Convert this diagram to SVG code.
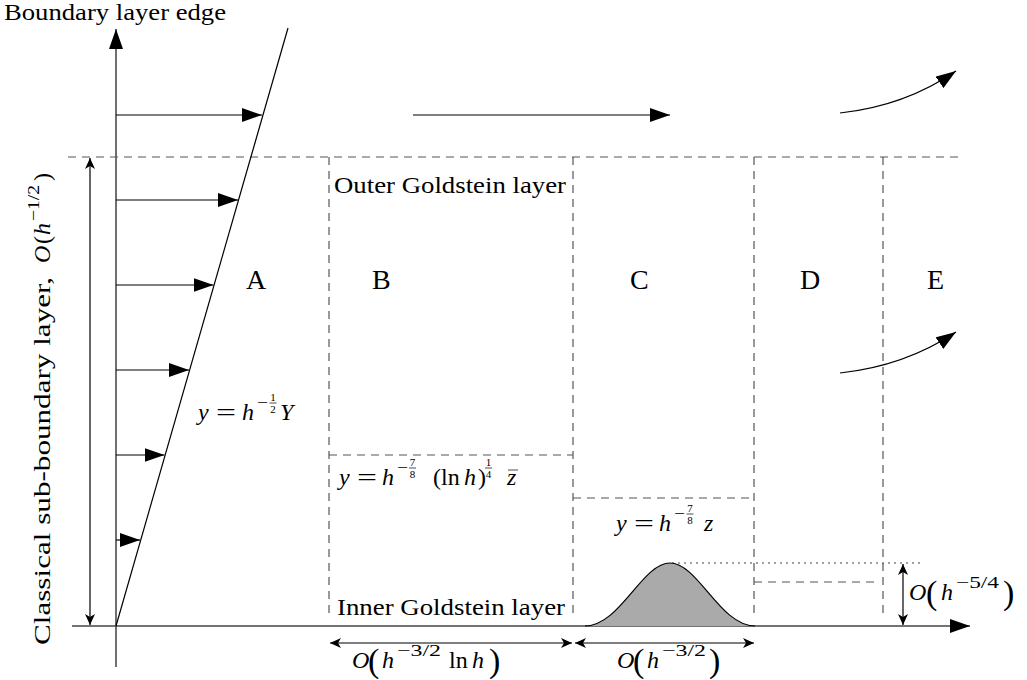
<svg xmlns="http://www.w3.org/2000/svg" width="1027" height="680" viewBox="0 0 1027 680">
<style>
.t{font-family:'Liberation Serif','Times New Roman',serif;font-size:24px;fill:#000}
.it{font-style:italic}
.sup{font-size:17px}
.fr{font-size:11px}
.big{font-size:34px}
.lbl{font-size:28px}
.ax{stroke:#222;stroke-width:1.3;fill:none}
.ln{stroke:#000;stroke-width:1.2;fill:none}
.da{stroke:#555;stroke-width:1.2;stroke-dasharray:8 6;fill:none}
.dot{stroke:#444;stroke-width:1.2;stroke-dasharray:2 4;fill:none}
.fl{stroke:#000;stroke-width:0.7}
</style>
<defs>
<marker id="tri" markerUnits="userSpaceOnUse" markerWidth="20" markerHeight="14" refX="20" refY="7" orient="auto"><path d="M0,0 L20,7 L0,14 z" fill="#000"/></marker>
<marker id="dim" markerUnits="userSpaceOnUse" markerWidth="12" markerHeight="10" refX="11" refY="5" orient="auto-start-reverse"><path d="M0,0 L11,5 L0,10 L3,5 z" fill="#000"/></marker>
</defs>

<g id="axes">
<line class="ax" x1="116" y1="667" x2="116" y2="29" marker-end="url(#tri)"/>
<line class="ax" x1="72" y1="626" x2="970" y2="626" marker-end="url(#tri)" style="stroke:#444"/>
</g>

<g id="boundary-edge-label">
<text class="t" x="4" y="20" textLength="222" lengthAdjust="spacingAndGlyphs">Boundary layer edge</text>
</g>

<g id="layers">
<line class="da" x1="68" y1="157" x2="960" y2="157"/>
<line class="da" x1="329" y1="157" x2="329" y2="616"/>
<line class="da" x1="573" y1="157" x2="573" y2="616"/>
<line class="da" x1="754" y1="157" x2="754" y2="616"/>
<line class="da" x1="883" y1="157" x2="883" y2="616"/>
<line class="da" x1="329" y1="455" x2="573" y2="455"/>
<line class="da" x1="573" y1="498" x2="754" y2="498"/>
<line class="da" x1="754" y1="582" x2="876" y2="582"/>
<line class="dot" x1="672" y1="563" x2="920" y2="563"/>
</g>

<g id="bump">
<path d="M585,626 C620,626 642,563 670,563 C698,563 720,626 755,626" fill="#aaaaaa" stroke="#000" stroke-width="1.2"/>
</g>

<g id="connectors">
<line class="ln" x1="116" y1="626" x2="288" y2="28"/>
<line class="ln" x1="116" y1="115" x2="262" y2="115" marker-end="url(#tri)"/>
<line class="ln" x1="116" y1="200" x2="238" y2="200" marker-end="url(#tri)"/>
<line class="ln" x1="116" y1="285" x2="213.5" y2="285" marker-end="url(#tri)"/>
<line class="ln" x1="116" y1="370" x2="189" y2="370" marker-end="url(#tri)"/>
<line class="ln" x1="116" y1="455" x2="164.5" y2="455" marker-end="url(#tri)"/>
<line class="ln" x1="116" y1="540" x2="140" y2="540" marker-end="url(#tri)"/>
<line class="ln" x1="413" y1="115" x2="670" y2="115" marker-end="url(#tri)"/>
<path class="ln" d="M840,113 Q905,106 956,71" marker-end="url(#tri)"/>
<path class="ln" d="M840,373 Q905,366 956,332" marker-end="url(#tri)"/>
<line class="ln" x1="90" y1="158" x2="90" y2="625" marker-start="url(#dim)" marker-end="url(#dim)"/>
<line class="ln" x1="330" y1="643" x2="572" y2="643" marker-start="url(#dim)" marker-end="url(#dim)"/>
<line class="ln" x1="575" y1="643" x2="754" y2="643" marker-start="url(#dim)" marker-end="url(#dim)"/>
<line class="ln" x1="903" y1="564" x2="903" y2="625" marker-start="url(#dim)" marker-end="url(#dim)"/>
</g>

<g id="sub-boundary-label" transform="translate(50,645) rotate(-90)">
<text class="t" x="0" y="0" textLength="368" lengthAdjust="spacingAndGlyphs">Classical sub-boundary layer,</text>
<text class="t it" x="382" y="0">O</text>
<text class="t" x="401" y="0">(</text>
<text class="t it" x="410" y="0">h</text>
<text class="t sup" x="424" y="-11" textLength="36" lengthAdjust="spacingAndGlyphs">−1/2</text>
<text class="t" x="464" y="0">)</text>
</g>

<g id="region-A"><text class="t lbl" x="246" y="289">A</text></g>
<g id="region-B"><text class="t lbl" x="372" y="289">B</text></g>
<g id="region-C"><text class="t lbl" x="630" y="289">C</text></g>
<g id="region-D"><text class="t lbl" x="800" y="289">D</text></g>
<g id="region-E"><text class="t lbl" x="927" y="289">E</text></g>

<g id="outer-goldstein"><text class="t" x="334" y="193" textLength="232" lengthAdjust="spacingAndGlyphs">Outer Goldstein layer</text></g>
<g id="inner-goldstein"><text class="t" x="337" y="615" textLength="228" lengthAdjust="spacingAndGlyphs">Inner Goldstein layer</text></g>

<g id="formula-A">
<text class="t it" x="198" y="420">y</text>
<text class="t" x="216" y="420" textLength="20" lengthAdjust="spacingAndGlyphs">=</text>
<text class="t it" x="242" y="420">h</text>
<text class="t sup" x="257" y="408" textLength="11" lengthAdjust="spacingAndGlyphs">−</text>
<text class="t fr" x="273" y="400.5" text-anchor="middle">1</text>
<line class="fl" x1="269.5" y1="403" x2="276.5" y2="403"/>
<text class="t fr" x="273" y="412.5" text-anchor="middle">2</text>
<text class="t it" x="280" y="420">Y</text>
</g>

<g id="formula-B">
<text class="t it" x="339" y="485">y</text>
<text class="t" x="357" y="485" textLength="20" lengthAdjust="spacingAndGlyphs">=</text>
<text class="t it" x="382" y="485">h</text>
<text class="t sup" x="397" y="473" textLength="11" lengthAdjust="spacingAndGlyphs">−</text>
<text class="t fr" x="412.5" y="465.5" text-anchor="middle">7</text>
<line class="fl" x1="409" y1="468" x2="416" y2="468"/>
<text class="t fr" x="412.5" y="477.5" text-anchor="middle">8</text>
<text class="t" x="433" y="485">(</text>
<text class="t" x="441" y="485">ln</text>
<text class="t it" x="464" y="485">h</text>
<text class="t" x="478" y="485">)</text>
<text class="t fr" x="488.5" y="465.5" text-anchor="middle">1</text>
<line class="fl" x1="485" y1="468" x2="492" y2="468"/>
<text class="t fr" x="488.5" y="477.5" text-anchor="middle">4</text>
<text class="t it" x="507" y="485">z</text>
<line class="fl" x1="508" y1="470" x2="518" y2="470"/>
</g>

<g id="formula-C">
<text class="t it" x="616" y="531">y</text>
<text class="t" x="634" y="531" textLength="20" lengthAdjust="spacingAndGlyphs">=</text>
<text class="t it" x="659" y="531">h</text>
<text class="t sup" x="674" y="519" textLength="11" lengthAdjust="spacingAndGlyphs">−</text>
<text class="t fr" x="690" y="511.5" text-anchor="middle">7</text>
<line class="fl" x1="686.5" y1="514" x2="693.5" y2="514"/>
<text class="t fr" x="690" y="523.5" text-anchor="middle">8</text>
<text class="t it" x="704" y="531">z</text>
</g>

<g id="dim-goldstein">
<text class="t it" x="352" y="668">O</text>
<text class="t big" x="368" y="672">(</text>
<text class="t it" x="382" y="668">h</text>
<text class="t sup" x="397" y="656" textLength="44" lengthAdjust="spacingAndGlyphs">−3/2</text>
<text class="t" x="449" y="668">ln</text>
<text class="t it" x="472" y="668">h</text>
<text class="t big" x="489" y="672">)</text>
</g>

<g id="dim-C">
<text class="t it" x="617" y="668">O</text>
<text class="t big" x="633" y="672">(</text>
<text class="t it" x="647" y="668">h</text>
<text class="t sup" x="662" y="656" textLength="44" lengthAdjust="spacingAndGlyphs">−3/2</text>
<text class="t big" x="709" y="672">)</text>
</g>

<g id="dim-bump">
<text class="t it" x="909" y="600">O</text>
<text class="t big" x="926" y="604">(</text>
<text class="t it" x="941" y="600">h</text>
<text class="t sup" x="956" y="588" textLength="43" lengthAdjust="spacingAndGlyphs">−5/4</text>
<text class="t big" x="1003" y="604">)</text>
</g>
</svg>
